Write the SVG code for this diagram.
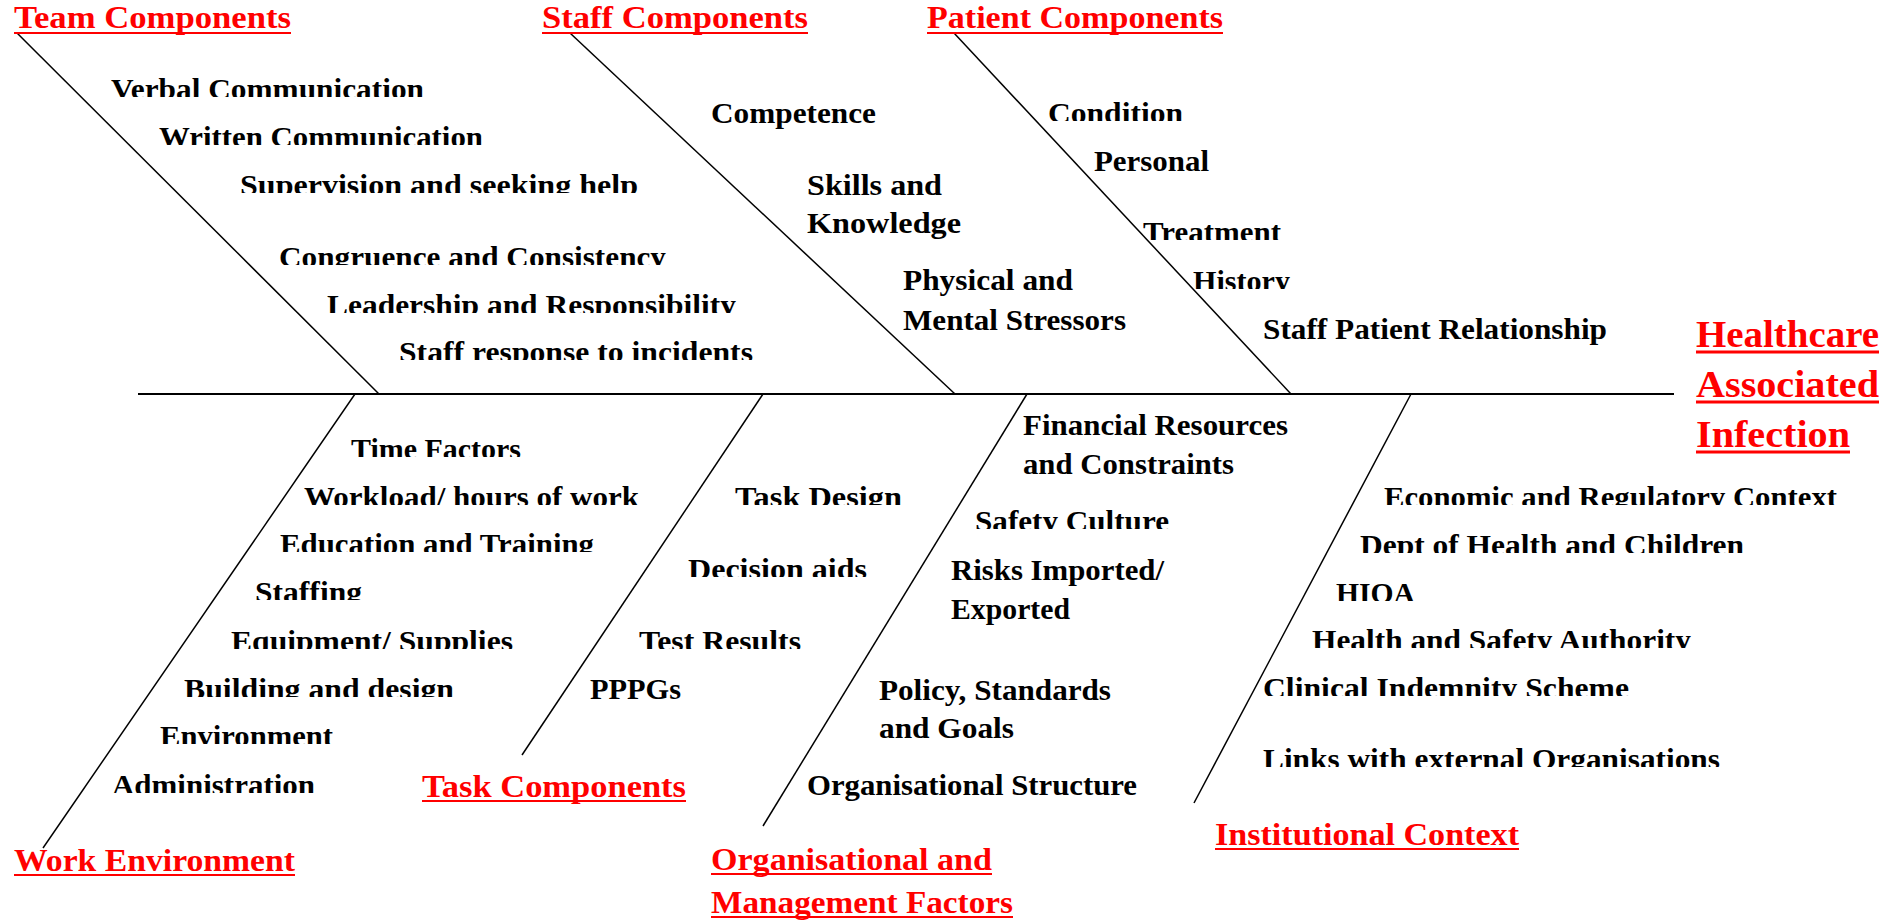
<svg xmlns="http://www.w3.org/2000/svg" width="1901" height="920" viewBox="0 0 1901 920">
  <style>
    text { font-family: "Liberation Serif", "Times New Roman", serif; font-weight: bold; }
    .item { font-size: 30px; fill: #000; }
    .head { font-size: 32px; fill: #ff0000; }
    .title { font-size: 38px; fill: #ff0000; }
    .ul { stroke: #ff0000; stroke-width: 2; }
    .ul-title { stroke: #ff0000; stroke-width: 3; }
    .bone { stroke: #000; stroke-width: 1.5; fill: none; }
    .spine { stroke: #000; stroke-width: 2; fill: none; }
  </style>
  <defs>
    <!-- bands that cut the lower edge off the cause labels -->
    <clipPath id="clip-team" clipPathUnits="userSpaceOnUse">
      <rect x="0" y="69" width="900" height="28"/>
      <rect x="0" y="117" width="900" height="28"/>
      <rect x="0" y="165" width="900" height="28"/>
      <rect x="0" y="237" width="900" height="28"/>
      <rect x="0" y="285" width="900" height="28"/>
      <rect x="0" y="332" width="900" height="28"/>
    </clipPath>
    <clipPath id="clip-patient" clipPathUnits="userSpaceOnUse">
      <rect x="1000" y="93" width="400" height="28"/>
      <rect x="1000" y="212" width="400" height="28"/>
      <rect x="1000" y="261" width="400" height="28"/>
    </clipPath>
    <clipPath id="clip-work" clipPathUnits="userSpaceOnUse">
      <rect x="0" y="429" width="700" height="28"/>
      <rect x="0" y="477" width="700" height="28"/>
      <rect x="0" y="524" width="700" height="28"/>
      <rect x="0" y="572" width="700" height="28"/>
      <rect x="0" y="621" width="700" height="28"/>
      <rect x="0" y="669" width="700" height="28"/>
      <rect x="0" y="716" width="700" height="28"/>
      <rect x="0" y="765" width="700" height="28"/>
    </clipPath>
    <clipPath id="clip-task" clipPathUnits="userSpaceOnUse">
      <rect x="550" y="477" width="400" height="28"/>
      <rect x="550" y="549" width="400" height="28"/>
      <rect x="550" y="621" width="400" height="28"/>
    </clipPath>
    <clipPath id="clip-org" clipPathUnits="userSpaceOnUse">
      <rect x="900" y="501" width="400" height="28"/>
    </clipPath>
    <clipPath id="clip-inst" clipPathUnits="userSpaceOnUse">
      <rect x="1200" y="477" width="701" height="28"/>
      <rect x="1200" y="525" width="701" height="28"/>
      <rect x="1200" y="573" width="701" height="28"/>
      <rect x="1200" y="620" width="701" height="28"/>
      <rect x="1200" y="668" width="701" height="28"/>
      <rect x="1200" y="739" width="701" height="28"/>
    </clipPath>
  </defs>

  <rect width="1901" height="920" fill="#ffffff"/>

  <!-- spine and bones -->
  <g id="connectors">
    <line class="spine" x1="138" y1="394" x2="1674" y2="394"/>
    <line class="bone" x1="17" y1="33" x2="379" y2="394"/>
    <line class="bone" x1="570" y1="33" x2="955" y2="394"/>
    <line class="bone" x1="954" y1="33" x2="1291" y2="394"/>
    <line class="bone" x1="355" y1="394" x2="43" y2="848"/>
    <line class="bone" x1="763" y1="394" x2="522" y2="755"/>
    <line class="bone" x1="1027" y1="394" x2="763" y2="826"/>
    <line class="bone" x1="1411" y1="394" x2="1194" y2="803"/>
  </g>

  <!-- effect -->
  <g id="effect">
    <text class="title" x="1696" y="347" textLength="183" lengthAdjust="spacingAndGlyphs">Healthcare</text>
    <line class="ul-title" x1="1696" y1="352" x2="1879" y2="352"/>
    <text class="title" x="1696" y="397" textLength="183" lengthAdjust="spacingAndGlyphs">Associated</text>
    <line class="ul-title" x1="1696" y1="402" x2="1879" y2="402"/>
    <text class="title" x="1696" y="447" textLength="154" lengthAdjust="spacingAndGlyphs">Infection</text>
    <line class="ul-title" x1="1696" y1="452" x2="1850" y2="452"/>
  </g>

  <g id="team-components">
    <text class="head" x="14" y="28" textLength="277" lengthAdjust="spacingAndGlyphs">Team Components</text>
    <line class="ul" x1="14" y1="33" x2="291" y2="33"/>
    <g clip-path="url(#clip-team)">
      <text class="item" x="111" y="99" textLength="313" lengthAdjust="spacingAndGlyphs">Verbal Communication</text>
      <text class="item" x="159" y="147" textLength="324" lengthAdjust="spacingAndGlyphs">Written Communication</text>
      <text class="item" x="240" y="195" textLength="398" lengthAdjust="spacingAndGlyphs">Supervision and seeking help</text>
      <text class="item" x="279" y="267" textLength="387" lengthAdjust="spacingAndGlyphs">Congruence and Consistency</text>
      <text class="item" x="327" y="315" textLength="409" lengthAdjust="spacingAndGlyphs">Leadership and Responsibility</text>
      <text class="item" x="399" y="362" textLength="354" lengthAdjust="spacingAndGlyphs">Staff response to incidents</text>
    </g>
  </g>

  <g id="staff-components">
    <text class="head" x="542" y="28" textLength="266" lengthAdjust="spacingAndGlyphs">Staff Components</text>
    <line class="ul" x1="542" y1="33" x2="808" y2="33"/>
    <text class="item" x="711" y="123" textLength="165" lengthAdjust="spacingAndGlyphs">Competence</text>
    <text class="item" x="807" y="195" textLength="135" lengthAdjust="spacingAndGlyphs">Skills and</text>
    <text class="item" x="807" y="233" textLength="154" lengthAdjust="spacingAndGlyphs">Knowledge</text>
    <text class="item" x="903" y="290" textLength="170" lengthAdjust="spacingAndGlyphs">Physical and</text>
    <text class="item" x="903" y="330" textLength="223" lengthAdjust="spacingAndGlyphs">Mental Stressors</text>
  </g>

  <g id="patient-components">
    <text class="head" x="927" y="28" textLength="296" lengthAdjust="spacingAndGlyphs">Patient Components</text>
    <line class="ul" x1="927" y1="33" x2="1223" y2="33"/>
    <g clip-path="url(#clip-patient)">
      <text class="item" x="1048" y="123" textLength="135" lengthAdjust="spacingAndGlyphs">Condition</text>
      <text class="item" x="1143" y="242" textLength="138" lengthAdjust="spacingAndGlyphs">Treatment</text>
      <text class="item" x="1193" y="291" textLength="97" lengthAdjust="spacingAndGlyphs">History</text>
    </g>
    <text class="item" x="1094" y="171" textLength="115" lengthAdjust="spacingAndGlyphs">Personal</text>
    <text class="item" x="1263" y="339" textLength="344" lengthAdjust="spacingAndGlyphs">Staff Patient Relationship</text>
  </g>

  <g id="work-environment">
    <g clip-path="url(#clip-work)">
      <text class="item" x="351" y="459" textLength="170" lengthAdjust="spacingAndGlyphs">Time Factors</text>
      <text class="item" x="304" y="507" textLength="335" lengthAdjust="spacingAndGlyphs">Workload/ hours of work</text>
      <text class="item" x="280" y="554" textLength="314" lengthAdjust="spacingAndGlyphs">Education and Training</text>
      <text class="item" x="255" y="602" textLength="107" lengthAdjust="spacingAndGlyphs">Staffing</text>
      <text class="item" x="231" y="651" textLength="282" lengthAdjust="spacingAndGlyphs">Equipment/ Supplies</text>
      <text class="item" x="184" y="699" textLength="270" lengthAdjust="spacingAndGlyphs">Building and design</text>
      <text class="item" x="160" y="746" textLength="173" lengthAdjust="spacingAndGlyphs">Environment</text>
      <text class="item" x="112" y="795" textLength="203" lengthAdjust="spacingAndGlyphs">Administration</text>
    </g>
    <text class="head" x="14" y="871" textLength="281" lengthAdjust="spacingAndGlyphs">Work Environment</text>
    <line class="ul" x1="14" y1="875" x2="295" y2="875"/>
  </g>

  <g id="task-components">
    <g clip-path="url(#clip-task)">
      <text class="item" x="735" y="507" textLength="167" lengthAdjust="spacingAndGlyphs">Task Design</text>
      <text class="item" x="688" y="579" textLength="179" lengthAdjust="spacingAndGlyphs">Decision aids</text>
      <text class="item" x="639" y="651" textLength="162" lengthAdjust="spacingAndGlyphs">Test Results</text>
    </g>
    <text class="item" x="590" y="699" textLength="91" lengthAdjust="spacingAndGlyphs">PPPGs</text>
    <text class="head" x="422" y="797" textLength="264" lengthAdjust="spacingAndGlyphs">Task Components</text>
    <line class="ul" x1="422" y1="801" x2="686" y2="801"/>
  </g>

  <g id="organisational-factors">
    <text class="item" x="1023" y="435" textLength="265" lengthAdjust="spacingAndGlyphs">Financial Resources</text>
    <text class="item" x="1023" y="474" textLength="211" lengthAdjust="spacingAndGlyphs">and Constraints</text>
    <g clip-path="url(#clip-org)">
      <text class="item" x="975" y="531" textLength="194" lengthAdjust="spacingAndGlyphs">Safety Culture</text>
    </g>
    <text class="item" x="951" y="580" textLength="213" lengthAdjust="spacingAndGlyphs">Risks Imported/</text>
    <text class="item" x="951" y="619" textLength="119" lengthAdjust="spacingAndGlyphs">Exported</text>
    <text class="item" x="879" y="700" textLength="232" lengthAdjust="spacingAndGlyphs">Policy, Standards</text>
    <text class="item" x="879" y="738" textLength="135" lengthAdjust="spacingAndGlyphs">and Goals</text>
    <text class="item" x="807" y="795" textLength="330" lengthAdjust="spacingAndGlyphs">Organisational Structure</text>
    <text class="head" x="711" y="870" textLength="281" lengthAdjust="spacingAndGlyphs">Organisational and</text>
    <line class="ul" x1="711" y1="874" x2="992" y2="874"/>
    <text class="head" x="711" y="913" textLength="302" lengthAdjust="spacingAndGlyphs">Management Factors</text>
    <line class="ul" x1="711" y1="917" x2="1013" y2="917"/>
  </g>

  <g id="institutional-context">
    <g clip-path="url(#clip-inst)">
      <text class="item" x="1384" y="507" textLength="453" lengthAdjust="spacingAndGlyphs">Economic and Regulatory Context</text>
      <text class="item" x="1360" y="555" textLength="384" lengthAdjust="spacingAndGlyphs">Dept of Health and Children</text>
      <text class="item" x="1336" y="603" textLength="79" lengthAdjust="spacingAndGlyphs">HIQA</text>
      <text class="item" x="1312" y="650" textLength="379" lengthAdjust="spacingAndGlyphs">Health and Safety Authority</text>
      <text class="item" x="1263" y="698" textLength="366" lengthAdjust="spacingAndGlyphs">Clinical Indemnity Scheme</text>
      <text class="item" x="1263" y="769" textLength="457" lengthAdjust="spacingAndGlyphs">Links with external Organisations</text>
    </g>
    <text class="head" x="1215" y="845" textLength="304" lengthAdjust="spacingAndGlyphs">Institutional Context</text>
    <line class="ul" x1="1215" y1="849" x2="1519" y2="849"/>
  </g>
</svg>
